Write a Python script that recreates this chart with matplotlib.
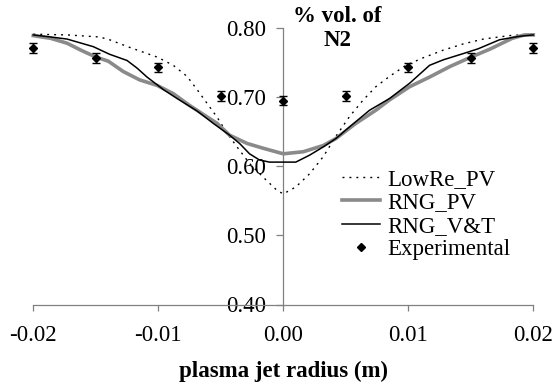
import matplotlib
matplotlib.use("Agg")
import matplotlib.pyplot as plt
from matplotlib.ticker import FixedLocator, FixedFormatter
from matplotlib.lines import Line2D

plt.rcParams['font.family'] = ['Liberation Serif', 'DejaVu Serif']
plt.rcParams['axes.unicode_minus'] = False

# ---- data ----
lowre_x = [-0.0200, -0.0173, -0.0147, -0.0139, -0.0123, -0.0101, -0.0088, -0.0077,
           -0.0069, -0.0061, -0.0053, -0.0045, -0.0037, -0.0027, -0.0016, -0.0005,
           0.0000, 0.0010, 0.0021, 0.0032, 0.0042, 0.0053, 0.0064, 0.0074, 0.0085,
           0.0098, 0.0112, 0.0128, 0.0144, 0.0160, 0.0181, 0.0200]
lowre_y = [0.791, 0.790, 0.787, 0.783, 0.772, 0.758, 0.746, 0.730,
           0.711, 0.691, 0.671, 0.648, 0.628, 0.604, 0.584, 0.565,
           0.560, 0.570, 0.589, 0.614, 0.643, 0.672, 0.696, 0.715, 0.730,
           0.746, 0.757, 0.768, 0.777, 0.784, 0.789, 0.791]

rngpv_x = [-0.0200, -0.0186, -0.0173, -0.0162, -0.0150, -0.0140, -0.0128, -0.0115,
           -0.0101, -0.0088, -0.0075, -0.0053, -0.0043, -0.0029, -0.0016, 0.0000,
           0.0016, 0.0032, 0.0042, 0.0058, 0.0074, 0.0085, 0.0101, 0.0117, 0.0133,
           0.0149, 0.0166, 0.0183, 0.0193, 0.0200]
rngpv_y = [0.789, 0.785, 0.778, 0.768, 0.758, 0.752, 0.737, 0.725,
           0.717, 0.705, 0.688, 0.662, 0.645, 0.633, 0.626, 0.618,
           0.621, 0.630, 0.640, 0.662, 0.681, 0.696, 0.715, 0.729, 0.744,
           0.757, 0.770, 0.785, 0.790, 0.790]

rngvt_x = [-0.0200, -0.0186, -0.0173, -0.0152, -0.0139, -0.0125, -0.0117, -0.0109,
           -0.0096, -0.0085, -0.0069, -0.0056, -0.0043, -0.0035, -0.0027, -0.0019,
           -0.0011, 0.0000, 0.0010, 0.0021, 0.0032, 0.0042, 0.0053, 0.0069, 0.0085,
           0.0101, 0.0117, 0.0128, 0.0144, 0.0156, 0.0173, 0.0189, 0.0200]
rngvt_y = [0.790, 0.787, 0.784, 0.773, 0.762, 0.753, 0.742, 0.729,
           0.711, 0.698, 0.680, 0.662, 0.645, 0.633, 0.618, 0.609,
           0.606, 0.606, 0.606, 0.616, 0.628, 0.640, 0.657, 0.681, 0.698,
           0.720, 0.746, 0.754, 0.763, 0.770, 0.783, 0.788, 0.790]

exp_x = [-0.020, -0.015, -0.010, -0.005, 0.000, 0.005, 0.010, 0.015, 0.020]
exp_y = [0.771, 0.757, 0.743, 0.702, 0.695, 0.702, 0.743, 0.757, 0.771]
exp_err = [0.007, 0.007, 0.007, 0.007, 0.007, 0.007, 0.007, 0.007, 0.007]

x_ticks = [-0.02, -0.01, 0.00, 0.01, 0.02]
x_ticklabels = ['-0.02', '-0.01', '0.00', '0.01', '0.02']
y_ticks = [0.40, 0.50, 0.60, 0.70, 0.80]
y_ticklabels = ['0.40', '0.50', '0.60', '0.70', '0.80']

series_labels = ['LowRe_PV', 'RNG_PV', 'RNG_V&T', 'Experimental']
title_lines = ['% vol. of', 'N2']
x_title = 'plasma jet radius (m)'

# ---- figure ----
W, H = 552, 391
fig = plt.figure(figsize=(W / 100, H / 100), dpi=100)
ax = fig.add_axes([33.3 / W, 1 - 304.5 / H, 500 / W, 276.5 / H])

FS = 16.5
DOT = (0, (1.4, 3.6))
GRAY = '#8a8a8a'
l1, = ax.plot(lowre_x, lowre_y, color='black', lw=1.0, linestyle=DOT, zorder=3,
              clip_on=False)
l2, = ax.plot(rngpv_x, rngpv_y, color=GRAY, lw=2.6, zorder=3, clip_on=False)
l3, = ax.plot(rngvt_x, rngvt_y, color='black', lw=1.1, zorder=4, clip_on=False)
eb = ax.errorbar(exp_x, exp_y, yerr=exp_err, fmt='D', color='black', ms=4.5,
                 ecolor='black', elinewidth=1.0, capsize=3, capthick=1.0,
                 zorder=5)
for artist in [eb[0]] + list(eb[1]) + list(eb[2]):
    artist.set_clip_on(False)

ax.set_xlim(-0.02, 0.02)
ax.set_ylim(0.40, 0.80)

for s in ['top', 'right']:
    ax.spines[s].set_visible(False)
ax.spines['left'].set_position(('data', 0))
ax.spines['left'].set_color('#808080')
ax.spines['bottom'].set_color('#808080')
ax.spines['left'].set_linewidth(0.9)
ax.spines['bottom'].set_linewidth(0.9)

ax.xaxis.set_major_locator(FixedLocator(x_ticks))
ax.xaxis.set_major_formatter(FixedFormatter(x_ticklabels))
ax.yaxis.set_major_locator(FixedLocator(y_ticks))
ax.yaxis.set_major_formatter(FixedFormatter(y_ticklabels))
ax.tick_params(axis='x', direction='out', length=4.5, width=0.9, color='#808080',
               labelsize=FS, pad=10)
ax.tick_params(axis='y', direction='out', length=5, width=0.9, color='#808080',
               labelsize=FS, pad=7.5)
ax.patch.set_visible(False)

h_exp = Line2D([], [], linestyle='none', marker='D', color='black', ms=3.8)
leg = fig.legend([l1, l2, l3, h_exp], series_labels, loc='center left',
                 bbox_to_anchor=(341.7 / W, 1 - 214.5 / H), frameon=False,
                 fontsize=FS, handlelength=1.65, handletextpad=0.35,
                 labelspacing=0.1, borderpad=0, borderaxespad=0)

fig.text(337.7 / W, 1 - 16 / H, title_lines[0], ha='center', va='center',
         fontsize=FS, fontweight='bold')
fig.text(337.7 / W, 1 - 41 / H, title_lines[1], ha='center', va='center',
         fontsize=FS, fontweight='bold')
fig.text(283.3 / W, 1 - 371 / H, x_title, ha='center', va='center',
         fontsize=FS, fontweight='bold')

fig.savefig('out.png', dpi=100)
